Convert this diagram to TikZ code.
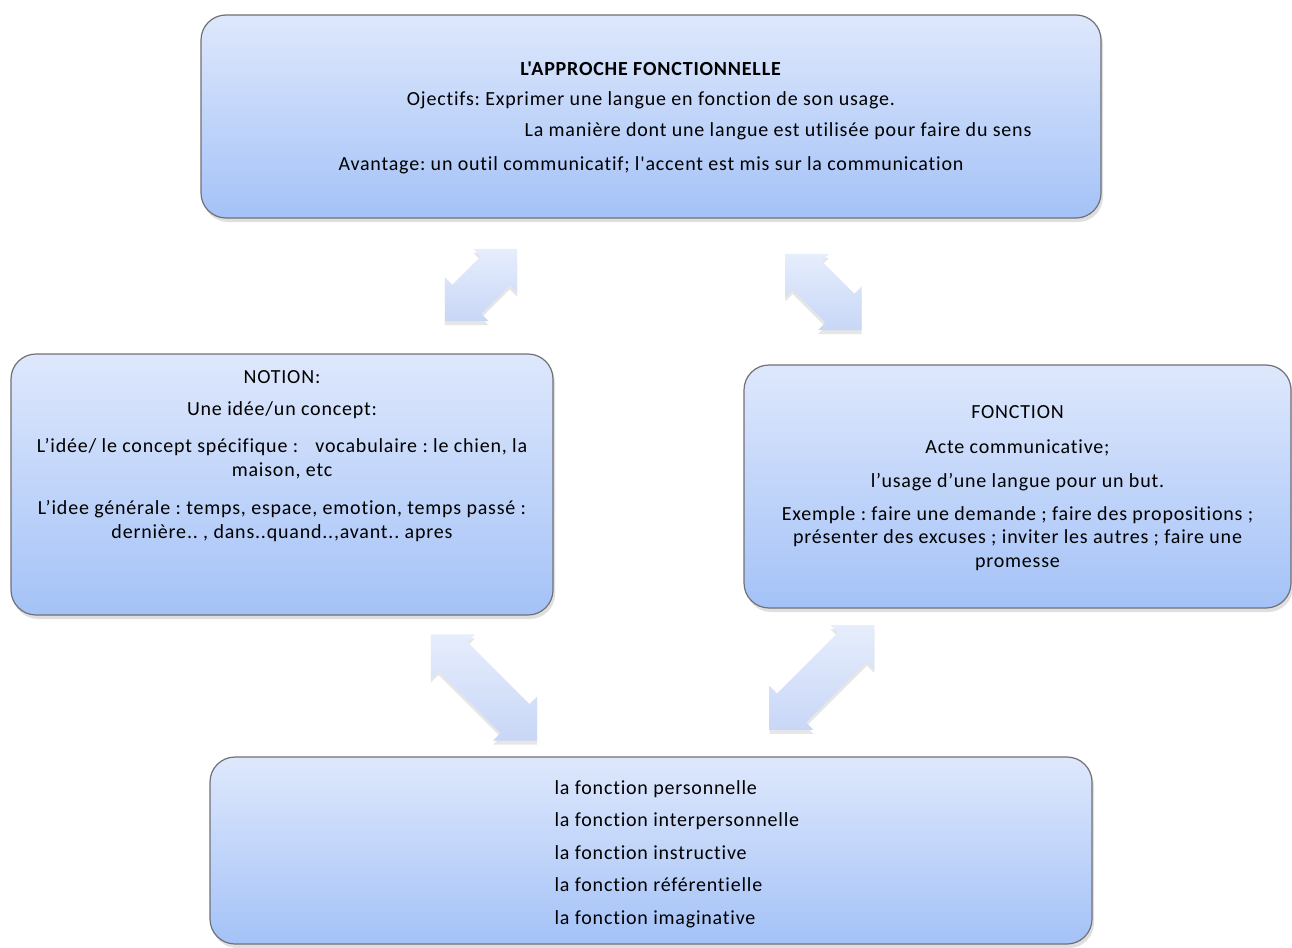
\documentclass[tikz,border=0pt]{standalone}
\usepackage{fontspec}
\newfontfamily\calibri{Carlito}[Ligatures=NoCommon, LetterSpace=4]
\usetikzlibrary{shadows, positioning}
\definecolor{boxTop}{RGB}{222, 232, 252}
\definecolor{boxBot}{RGB}{164, 194, 247}
\definecolor{boxLine}{RGB}{112, 112, 118}
\definecolor{arrTop}{RGB}{230, 237, 252}
\definecolor{arrBot}{RGB}{200, 215, 247}

\tikzset{
  panel/.style={draw=boxLine, line width=1.2pt, rounded corners=25pt,
    top color=boxTop, bottom color=boxBot,
    drop shadow={shadow xshift=2pt, shadow yshift=-4pt, opacity=0.25}},
  txt/.style={font=\calibri\fontsize{20pt}{23.5pt}\selectfont, align=center, inner sep=0pt},
  blockarrow/.style={top color=arrTop, bottom color=arrBot,
    drop shadow={shadow xshift=0pt, shadow yshift=-4pt, opacity=0.2}}
}
\frenchspacing

\begin{document}
\begin{tikzpicture}[x=1pt, y=-1pt]
  \useasboundingbox (0,0) rectangle (1292,947);

  % boxes
  \node[panel, minimum width=900pt, minimum height=203pt] (approche) at (651,116.5) {};
  \node[panel, minimum width=542pt, minimum height=261pt] (notion) at (282,484.5) {};
  \node[panel, minimum width=547pt, minimum height=243pt] (fonction) at (1017.5,486.5) {};
  \node[panel, minimum width=882pt, minimum height=187pt] (types) at (651,850.5) {};

  % block arrows: centre, angle, length
  \coordinate (arrTL) at (481,285);
  \coordinate (arrTR) at (823.5,292);
  \coordinate (arrBL) at (484,687.5);
  \coordinate (arrBR) at (822,677.5);
  \foreach \c/\ang/\len in {arrTL/45/102, arrTR/-45/108, arrBL/-45/150, arrBR/45/148} {
    \begin{scope}[shift={(\c)}, rotate=\ang]
      \path[blockarrow] (-\len/2,0) -- (-\len/2+31,31) -- (-\len/2+31,20.5)
        -- (\len/2-31,20.5) -- (\len/2-31,31) -- (\len/2,0) -- (\len/2-31,-31)
        -- (\len/2-31,-20.5) -- (-\len/2+31,-20.5) -- (-\len/2+31,-31) -- cycle;
    \end{scope}
  }

  % texts
  \node[txt, below=47pt of approche.north] (approcheTxt) {%
    \textbf{L'APPROCHE FONCTIONNELLE}\\[7pt]
    Ojectifs: Exprimer une langue en fonction de son usage.\\[7pt]
    \hspace*{254pt}La manière dont une langue est utilisée pour faire du sens\\[11pt]
    Avantage: un outil communicatif; l'accent est mis sur la communication};

  \node[txt, below=17pt of notion.north] (notionTxt) {%
    NOTION:\\[8pt]
    Une idée/un concept:\\[14pt]
    L’idée/ le concept spécifique :\hspace{12pt} vocabulaire : le chien, la\\
    maison, etc\\[15pt]
    L’idee générale : temps, espace, emotion, temps passé :\\
    dernière.. , dans..quand..,avant.. apres};

  \node[txt, below=41pt of fonction.north] (fonctionTxt) {%
    FONCTION\\[11pt]
    Acte communicative;\\[11pt]
    l’usage d’une langue pour un but.\\[9pt]
    Exemple : faire une demande ; faire des propositions ;\\
    présenter des excuses ; inviter les autres ; faire une\\
    promesse};

  \node[txt, align=left, below right=24pt and 345pt of types.north west] (typesTxt) {%
    la fonction personnelle\\[9pt]
    la fonction interpersonnelle\\[9pt]
    la fonction instructive\\[9pt]
    la fonction référentielle\\[9pt]
    la fonction imaginative};
\end{tikzpicture}
\end{document}
